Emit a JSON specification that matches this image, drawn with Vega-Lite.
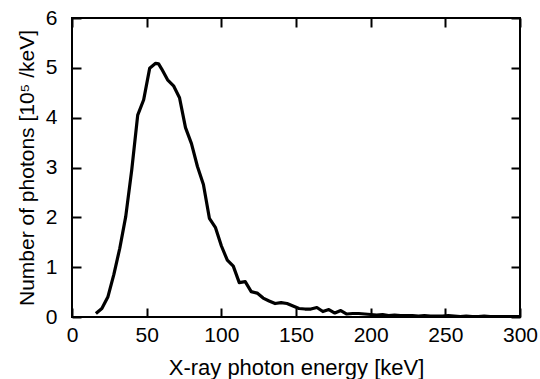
{
  "$schema": "https://vega.github.io/schema/vega-lite/v6.json",
  "width": 448,
  "height": 299,
  "autosize": {"type": "none"},
  "padding": {"left": 72, "top": 18, "right": 20, "bottom": 62},
  "background": "white",
  "config": {
    "view": {"stroke": "black", "strokeWidth": 2},
    "font": "Liberation Sans",
    "axis": {
      "grid": false,
      "domain": false,
      "tickColor": "black",
      "tickWidth": 2,
      "tickSize": -9,
      "labelColor": "black",
      "titleColor": "black",
      "labelFont": "Liberation Sans",
      "titleFont": "Liberation Sans",
      "labelFontSize": 21,
      "titleFontSize": 22,
      "titleFontWeight": "normal"
    }
  },
  "data": {
    "values": [
      {"e": 16, "n": 0.07}, {"e": 20, "n": 0.17}, {"e": 24, "n": 0.40}, {"e": 28, "n": 0.85},
      {"e": 32, "n": 1.38}, {"e": 36, "n": 2.02}, {"e": 40, "n": 2.95}, {"e": 44, "n": 4.05},
      {"e": 48, "n": 4.36}, {"e": 52, "n": 4.99}, {"e": 54, "n": 5.04}, {"e": 56, "n": 5.09},
      {"e": 58, "n": 5.08}, {"e": 60, "n": 4.98}, {"e": 64, "n": 4.76}, {"e": 68, "n": 4.64},
      {"e": 72, "n": 4.40}, {"e": 76, "n": 3.80}, {"e": 80, "n": 3.48}, {"e": 84, "n": 3.02},
      {"e": 88, "n": 2.66}, {"e": 92, "n": 1.98}, {"e": 96, "n": 1.80}, {"e": 100, "n": 1.43},
      {"e": 104, "n": 1.14}, {"e": 108, "n": 1.02}, {"e": 112, "n": 0.69}, {"e": 116, "n": 0.71},
      {"e": 120, "n": 0.51}, {"e": 124, "n": 0.48}, {"e": 128, "n": 0.38}, {"e": 132, "n": 0.32},
      {"e": 136, "n": 0.27}, {"e": 140, "n": 0.29}, {"e": 144, "n": 0.27}, {"e": 148, "n": 0.22},
      {"e": 152, "n": 0.17}, {"e": 156, "n": 0.16}, {"e": 160, "n": 0.16}, {"e": 164, "n": 0.19},
      {"e": 168, "n": 0.11}, {"e": 172, "n": 0.15}, {"e": 176, "n": 0.08}, {"e": 180, "n": 0.13},
      {"e": 184, "n": 0.06}, {"e": 188, "n": 0.07}, {"e": 192, "n": 0.07}, {"e": 196, "n": 0.06},
      {"e": 200, "n": 0.05}, {"e": 204, "n": 0.04}, {"e": 208, "n": 0.05}, {"e": 212, "n": 0.03},
      {"e": 216, "n": 0.04}, {"e": 220, "n": 0.03}, {"e": 224, "n": 0.03}, {"e": 228, "n": 0.03},
      {"e": 232, "n": 0.02}, {"e": 236, "n": 0.03}, {"e": 240, "n": 0.02}, {"e": 244, "n": 0.02},
      {"e": 248, "n": 0.02}, {"e": 252, "n": 0.03}, {"e": 256, "n": 0.02}, {"e": 260, "n": 0.01},
      {"e": 264, "n": 0.02}, {"e": 268, "n": 0.01}, {"e": 272, "n": 0.01}, {"e": 276, "n": 0.02},
      {"e": 280, "n": 0.01}, {"e": 284, "n": 0.01}, {"e": 288, "n": 0.01}, {"e": 292, "n": 0.01},
      {"e": 296, "n": 0.01}, {"e": 300, "n": 0.01}
    ]
  },
  "layer": [
    {
      "mark": {"type": "line", "color": "black", "strokeWidth": 3.2, "strokeJoin": "round", "clip": true},
      "encoding": {
        "x": {
          "field": "e", "type": "quantitative",
          "scale": {"domain": [0, 300], "nice": false},
          "axis": {"orient": "bottom", "values": [0, 50, 100, 150, 200, 250, 300], "labelPadding": 16, "title": "X-ray photon energy [keV]", "titlePadding": 12, "labelFlush": false}
        },
        "y": {
          "field": "n", "type": "quantitative",
          "scale": {"domain": [0, 6], "nice": false, "zero": true},
          "axis": {"orient": "left", "values": [0, 1, 2, 3, 4, 5, 6], "labelPadding": 24, "title": "Number of photons [10⁵ /keV]", "titlePadding": 8, "titleFontSize": 21, "labelFlush": false}
        }
      }
    },
    {
      "mark": {"type": "line", "opacity": 0},
      "encoding": {
        "x": {
          "field": "e", "type": "quantitative",
          "axis": {"orient": "top", "values": [0, 50, 100, 150, 200, 250, 300], "labels": false, "title": null}
        },
        "y": {
          "field": "n", "type": "quantitative",
          "axis": {"orient": "right", "values": [0, 1, 2, 3, 4, 5, 6], "labels": false, "title": null}
        }
      }
    }
  ],
  "resolve": {"axis": {"x": "independent", "y": "independent"}}
}
